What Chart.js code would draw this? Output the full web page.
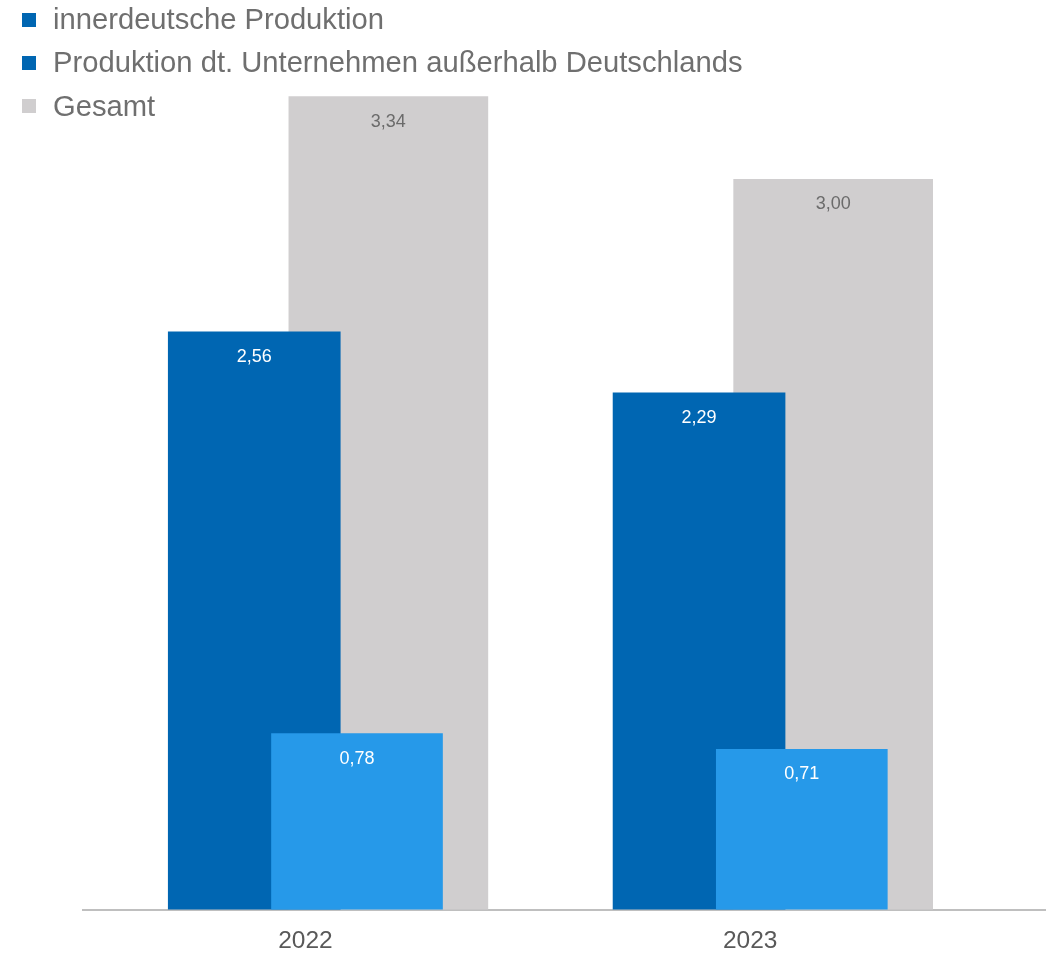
<!DOCTYPE html>
<html lang="de">
<head>
<meta charset="utf-8">
<title>Produktion 2022–2023</title>
<script src="https://cdn.jsdelivr.net/npm/chart.js@4/dist/chart.umd.min.js"></script>
<style>
  html, body { margin: 0; padding: 0; background: #ffffff; }
  #wrap { position: relative; width: 1046px; height: 956px; }
  #legend {
    position: absolute; left: 22px; top: -2px; margin: 0; padding: 0; list-style: none;
    font-family: "Liberation Sans", Arial, sans-serif; font-size: 29.2px; color: #6f6f6f;
  }
  #legend li { display: flex; align-items: center; height: 43.3px; white-space: nowrap; }
  #legend .box { width: 14px; height: 14px; margin-right: 17px; flex: none; }
</style>
</head>
<body>
<div id="wrap">
  <canvas id="chart"></canvas>
  <ul id="legend"></ul>
</div>
<script>
// ---- data ----
const years = ['2022', '2023'];
const seriesNames = [
  'innerdeutsche Produktion',
  'Produktion dt. Unternehmen außerhalb Deutschlands',
  'Gesamt'
];
const inlandValues = [2.56, 2.29];
const abroadValues = [0.78, 0.71];
const totalValues  = [3.34, 3.00];

// ---- styling ----
const FONT = '"Liberation Sans", Arial, sans-serif';
const DARK_BLUE = '#0066B2';
const LIGHT_BLUE = '#2699E9';
const GREY = '#D0CECF';
const SWATCHES = [DARK_BLUE, DARK_BLUE, GREY];
const LABEL_COLORS = ['#ffffff', '#ffffff', '#6b6b6b'];
// horizontal placement of each series around its year (in category units)
const SHIFT = [-0.115, 0.116, 0.1865];
const WIDTHS = [172, 171, 199];

const fmt = new Intl.NumberFormat('de-DE', { minimumFractionDigits: 2, maximumFractionDigits: 2 });
const toPoints = (values, s) => values.map((v, i) => ({ x: i + SHIFT[s], y: v }));

// legend rendered as HTML list beside the canvas
const htmlLegend = {
  id: 'htmlLegend',
  afterUpdate(chart) {
    const ul = document.getElementById('legend');
    ul.innerHTML = '';
    chart.data.datasets.forEach((ds, i) => {
      const li = document.createElement('li');
      const box = document.createElement('span');
      box.className = 'box';
      box.style.background = SWATCHES[i];
      const txt = document.createElement('span');
      txt.textContent = ds.label;
      li.append(box, txt);
      ul.appendChild(li);
    });
  }
};

// value printed just inside the top of each bar
const valueLabels = {
  id: 'valueLabels',
  afterDatasetsDraw(chart) {
    const ctx = chart.ctx;
    ctx.save();
    ctx.font = '18px ' + FONT;
    ctx.textAlign = 'center';
    ctx.textBaseline = 'middle';
    chart.data.datasets.forEach((ds, i) => {
      const meta = chart.getDatasetMeta(i);
      meta.data.forEach((bar, j) => {
        ctx.fillStyle = LABEL_COLORS[i];
        ctx.fillText(fmt.format(ds.data[j].y), bar.x, bar.y + 25);
      });
    });
    ctx.restore();
  }
};

new Chart(document.getElementById('chart'), {
  type: 'bar',
  data: {
    datasets: [
      { label: seriesNames[0], data: toPoints(inlandValues, 0), backgroundColor: DARK_BLUE,
        yAxisID: 'y', order: 2, barThickness: WIDTHS[0] },
      { label: seriesNames[1], data: toPoints(abroadValues, 1), backgroundColor: LIGHT_BLUE,
        yAxisID: 'y', order: 1, barThickness: WIDTHS[1] },
      { label: seriesNames[2], data: toPoints(totalValues, 2), backgroundColor: GREY,
        yAxisID: 'y2', order: 3, barThickness: WIDTHS[2] }
    ]
  },
  options: {
    responsive: true,
    maintainAspectRatio: false,
    animation: false,
    layout: { padding: { left: 83, right: 0, top: 9, bottom: 0 } },
    datasets: { bar: { grouped: false, borderWidth: 0 } },
    plugins: { legend: { display: false }, tooltip: { enabled: false } },
    scales: {
      x: {
        type: 'linear',
        offset: false,
        min: -0.5,
        max: 1.665,
        afterBuildTicks: (scale) => { scale.ticks = years.map((_, i) => ({ value: i })); },
        ticks: {
          callback: (v) => years[v] ?? '',
          font: { family: FONT, size: 24.5 },
          color: '#595959',
          padding: 0,
          maxRotation: 0,
          autoSkip: false
        },
        grid: {
          display: true, offset: false, drawOnChartArea: false, drawTicks: true,
          tickLength: 17, tickColor: 'rgba(0,0,0,0)', color: 'rgba(0,0,0,0)'
        },
        border: { display: true, color: '#BFBFBF', width: 2 }
      },
      y:  { display: false, min: 0, max: 3.99 },
      y2: { display: false, min: 0, max: 3.7 }
    }
  },
  plugins: [htmlLegend, valueLabels]
});
</script>
</body>
</html>
